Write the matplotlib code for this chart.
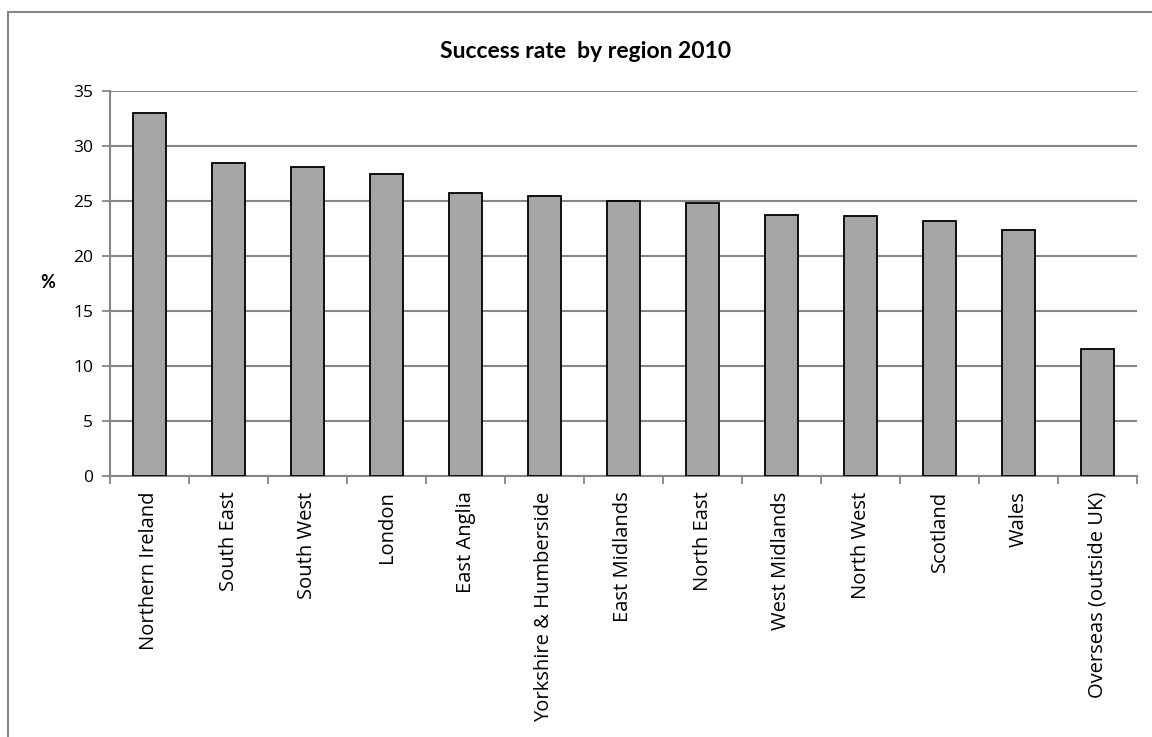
import numpy as np
import matplotlib
matplotlib.use("Agg")
import matplotlib.pyplot as plt
from matplotlib.patches import Rectangle

# Data
regions = ["Northern Ireland", "South East", "South West", "London", "East Anglia",
           "Yorkshire & Humberside", "East Midlands", "North East", "West Midlands",
           "North West", "Scotland", "Wales", "Overseas (outside UK)"]
success_rate = [33.0, 28.5, 28.1, 27.5, 25.7, 25.5, 25.0, 24.8, 23.7, 23.6, 23.2, 22.4, 11.5]
y_ticks = [0, 5, 10, 15, 20, 25, 30, 35]

plt.rcParams['font.family'] = ['Open Sans', 'DejaVu Sans']

fig = plt.figure(figsize=(11.52, 7.37), dpi=100)
ax = fig.add_axes([110 / 1152, 1 - 476 / 737, 1027 / 1152, 385 / 737])

#Outer chart border (bottom is cut off in the original)
fig.patches.append(Rectangle((8 / 1152, -0.1), 1.2, 1 - 12 / 737 + 0.1,
                             transform=fig.transFigure, fill=False,
                             edgecolor='#868686', linewidth=1.5))

x = np.arange(len(regions))
ax.bar(x, success_rate, width=0.41, color='#a6a6a6', edgecolor='black', linewidth=1.3, zorder=3)

#Axis setup
ax.set_xlim(-0.5, len(regions) - 0.5)
ax.set_ylim(0, 35)
ax.set_yticks(y_ticks)
ax.set_yticklabels([str(v) for v in y_ticks], fontsize=12.5)
ax.yaxis.grid(True, color='#868686', linewidth=1.5, zorder=0)

ax.set_xticks(x)
ax.set_xticklabels(regions, rotation=90, fontsize=14.5, va='top')
ax.set_xticks(np.arange(-0.5, len(regions)), minor=True)
ax.tick_params(axis='x', which='major', length=0, pad=11)
ax.tick_params(axis='x', which='minor', length=6, color='#868686', width=1.3)
ax.tick_params(axis='y', length=6, color='#868686', width=1.3, pad=6)

for side in ['top', 'right']:
    ax.spines[side].set_visible(False)
for side in ['left', 'bottom']:
    ax.spines[side].set_color('#868686')
    ax.spines[side].set_linewidth(1.5)

#Labels and title
fig.text(48 / 1152, 1 - 283 / 737, '%', fontsize=13, fontweight='bold', ha='center', va='center',
         family=['Lato', 'DejaVu Sans'])
fig.text(586 / 1152, 1 - 51 / 737, 'Success rate  by region 2010', fontsize=16.5,
         fontweight='bold', ha='center', va='center', family=['Lato', 'DejaVu Sans'])

fig.savefig('out.png', dpi=100)
